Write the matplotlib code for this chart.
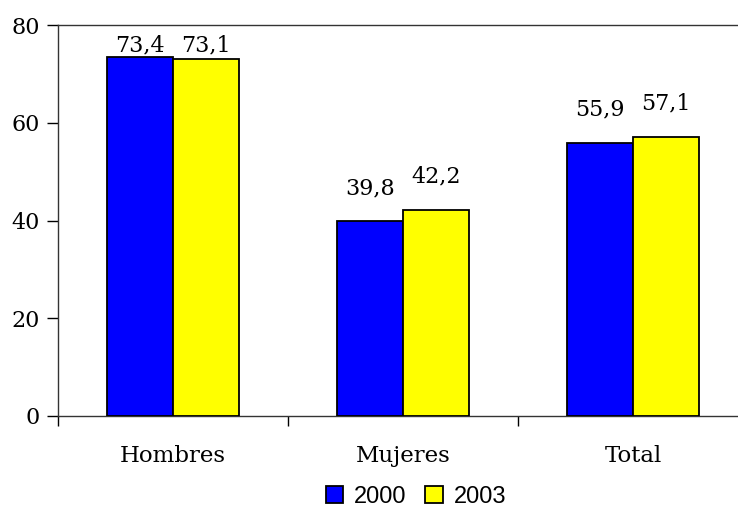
import matplotlib.pyplot as plt
import numpy as np

# datos
categorias = ['Hombres', 'Mujeres', 'Total']
anios = ['2000', '2003']
valores_2000 = [73.4, 39.8, 55.9]
valores_2003 = [73.1, 42.2, 57.1]
colores = ['#0000FF', '#FFFF00']

fig = plt.figure(figsize=(7.38, 5.12), dpi=100)
ax = fig.add_axes([58 / 738, 1 - 416 / 512, 690 / 738, 391 / 512])

x = np.arange(len(categorias))
ancho = 0.287
series = [valores_2000, valores_2003]
for i, vals in enumerate(series):
    pos = x + (i - 0.5) * ancho
    ax.bar(pos, vals, ancho, color=colores[i], edgecolor='black', linewidth=1.3,
           label=anios[i], zorder=3)
    for p, v in zip(pos, vals):
        y_lab = min(v + 6.8, 75.9)
        ax.text(p, y_lab, f'{v:.1f}'.replace('.', ','), ha='center', va='center',
                fontsize=16, family='DejaVu Serif')

ax.set_xlim(-0.5, 2.5)
ax.set_ylim(0, 80)
ax.set_yticks([0, 20, 40, 60, 80])
ax.tick_params(axis='y', direction='out', length=8, width=1, labelsize=16, pad=5)
for t in ax.get_yticklabels():
    t.set_family('DejaVu Serif')

ax.set_xticks(x)
ax.set_xticklabels(categorias, family='DejaVu Serif', fontsize=16.5)
ax.tick_params(axis='x', which='major', length=0, pad=21)
ax.set_xticks([-0.5, 0.5, 1.5, 2.5], minor=True)
ax.tick_params(axis='x', which='minor', direction='out', length=7, width=1)

ax.spines['right'].set_visible(False)
for s in ['left', 'bottom', 'top']:
    ax.spines[s].set_color('#333333')
    ax.spines[s].set_linewidth(1)

leg = fig.legend(loc='center', bbox_to_anchor=(416 / 738, 1 - 497 / 512), ncol=2,
                 frameon=False, handlelength=0.75, handleheight=0.75,
                 handletextpad=0.45, columnspacing=0.8,
                 prop={'family': 'Liberation Sans', 'size': 17})

fig.savefig('out.png', dpi=100)
